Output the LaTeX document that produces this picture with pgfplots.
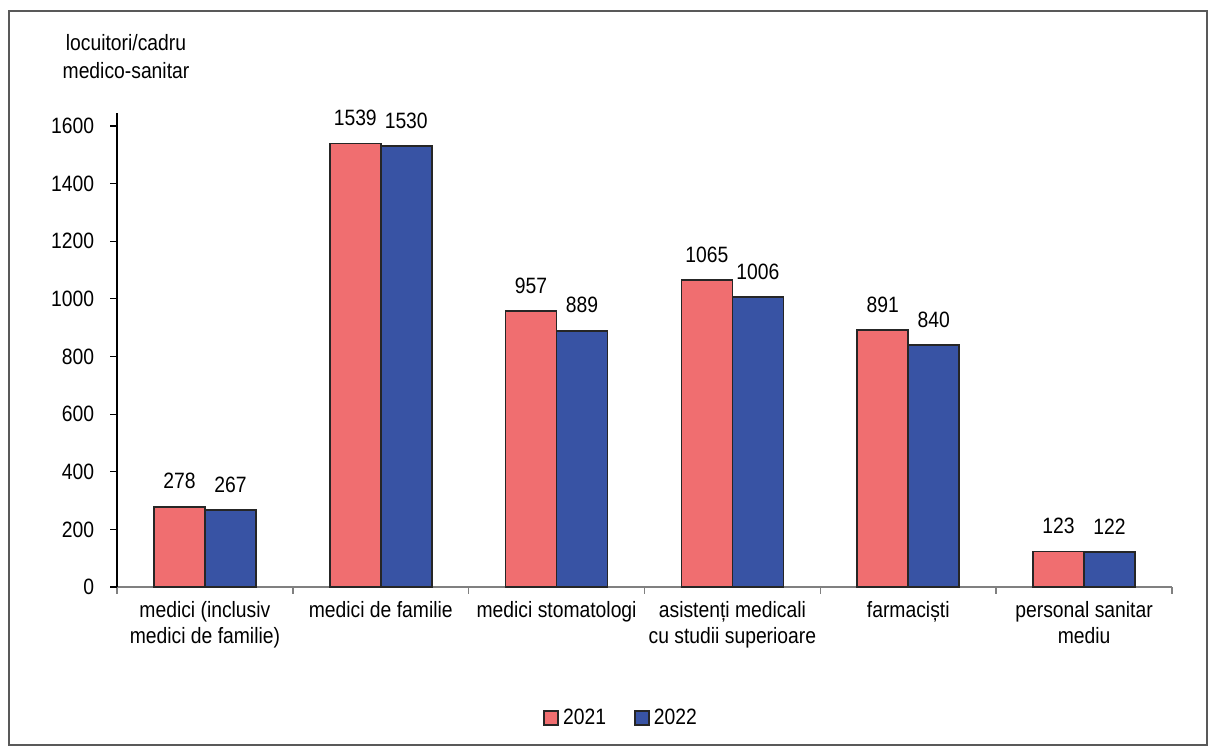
\documentclass[border=0pt]{standalone}
\usepackage{fontspec}
\setmainfont{Liberation Sans}[FakeStretch=0.87]
\usepackage{pgfplots}
\pgfplotsset{compat=1.18}
\definecolor{cred}{RGB}{240,110,112}
\definecolor{cblue}{RGB}{56,83,164}
\definecolor{axgray}{RGB}{128,128,128}
\begin{document}
\fontsize{11.1}{13}\selectfont
\begin{tikzpicture}[x=1pt,y=1pt]
\path[use as bounding box] (0,0) rectangle (608,376.5);
\draw[line width=0.6pt, black!65] (4.5,4) rectangle (603.5,371);
\node[align=center, font=\fontsize{11.1}{14}\selectfont] at (63,348) {locuitori/cadru\\medico-sanitar};
\begin{axis}[
  at={(58.5pt,83pt)}, anchor=south west,
  scale only axis, width=527.5pt, height=237pt,
  xmin=-0.5, xmax=5.5, ymin=0, ymax=1645,
  axis lines*=left,
  x axis line style={axgray, line width=0.7pt},
  y axis line style={black, line width=0.6pt},
  ytick={200,400,...,1600},
  extra y ticks={0},
  extra y tick style={tick style={axgray, line width=0.7pt}},
  tick align=outside,
  major tick length=3.5pt,
  minor tick length=3.5pt,
  y tick style={black, line width=0.6pt},
  xtick={0,...,5},
  major x tick style={draw=none},
  minor xtick={-0.5,0.5,...,5.5},
  minor x tick style={axgray, line width=0.7pt},
  xticklabels={{medici (inclusiv\\medici de familie)},{medici de familie},{medici stomatologi},{asistenți medicali\\cu studii superioare},{farmaciști},{personal sanitar\\mediu}},
  x tick label style={align=center, yshift=0pt},
  y tick label style={xshift=-4pt},
  /pgf/number format/assume math mode=true,
  /pgf/number format/1000 sep={},
  ybar, bar width=0.29,
  nodes near coords,
  every node near coord/.append style={yshift=4.7pt, black},
  legend style={at={(0.4787,-0.2764)}, anchor=center, draw=none, legend columns=-1,
    /tikz/every even column/.append style={column sep=12pt}},
  legend image code/.code={\draw[#1, line width=0.9pt] (0pt,-3.5pt) rectangle (7pt,3.5pt);},
  clip=false,
]
\addplot[fill=cred, draw=black!85, line width=0.9pt, bar shift=-0.145] coordinates {(0,278) (1,1539) (2,957) (3,1065) (4,891) (5,123)};
\addplot[fill=cblue, draw=black!85, line width=0.9pt, bar shift=0.145] coordinates {(0,267) (1,1530) (2,889) (3,1006) (4,840) (5,122)};
\legend{2021,2022}
\end{axis}
\end{tikzpicture}
\end{document}
